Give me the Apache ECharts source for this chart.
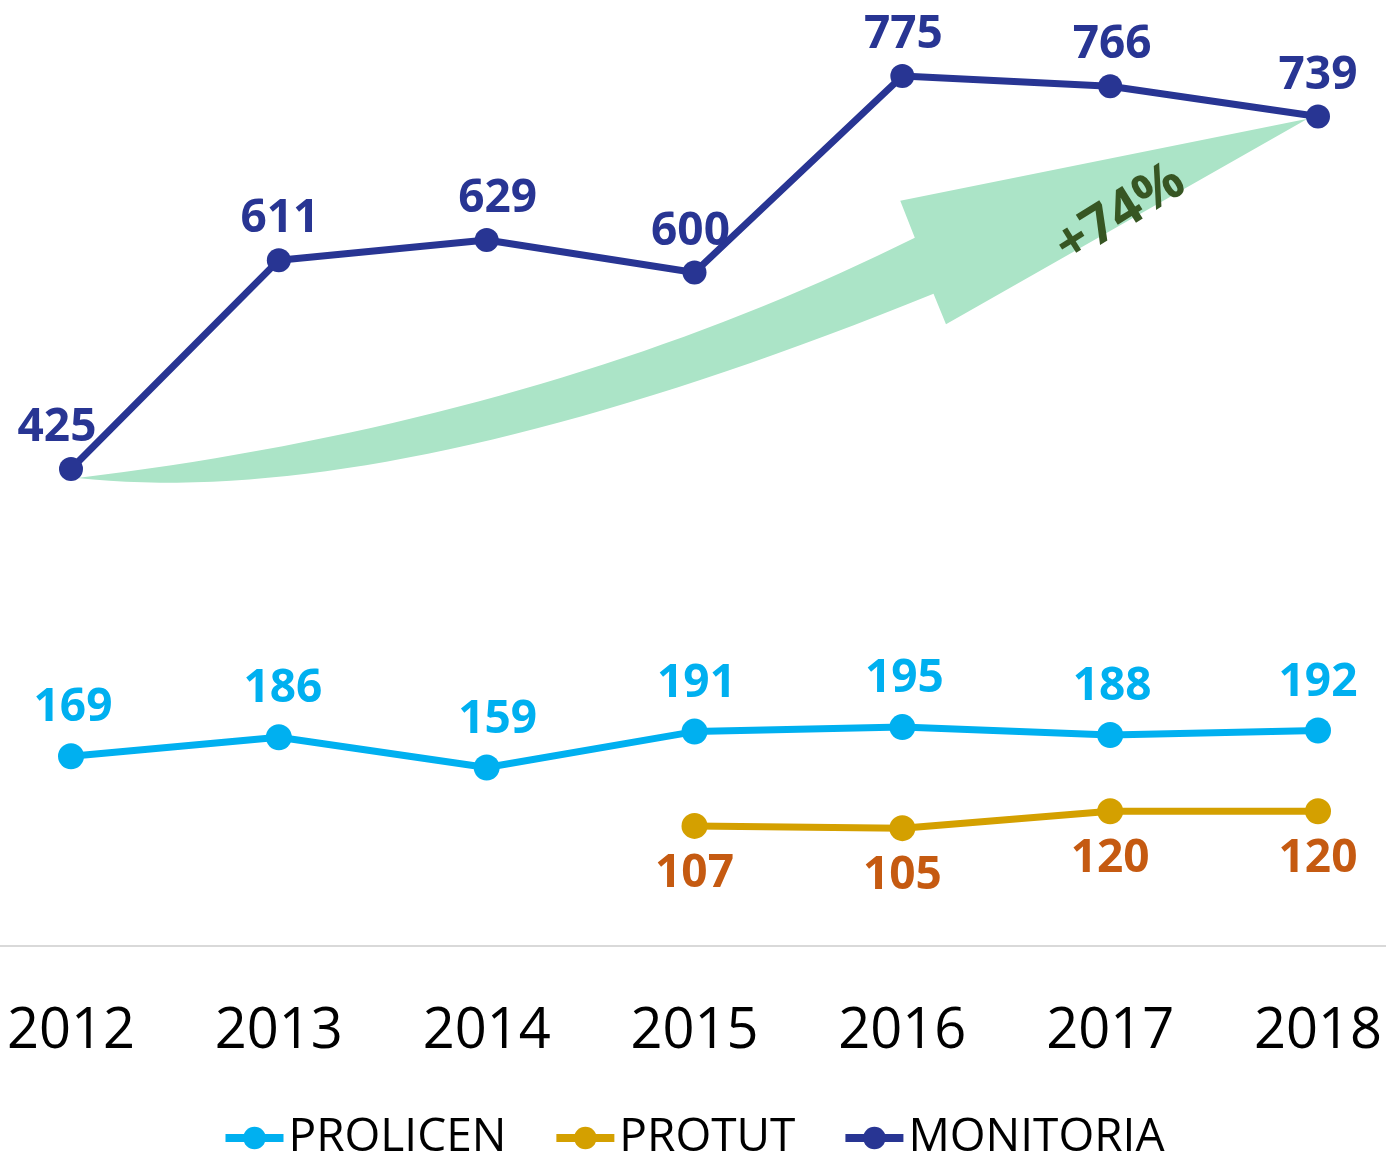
<!DOCTYPE html>
<html>
<head>
<meta charset="utf-8">
<script src="https://cdn.jsdelivr.net/npm/echarts@6/dist/echarts.min.js"></script>
<style>
html,body{margin:0;padding:0;background:#fff;}
#chart{width:1386px;height:1155px;}
</style>
</head>
<body>
<div id="chart"></div>
<script>
// ---- data ----
const years = ['2012', '2013', '2014', '2015', '2016', '2017', '2018'];
const prolicen = [169, 186, 159, 191, 195, 188, 192];
const protut = [null, null, null, 107, 105, 120, 120];
const monitoria = [425, 611, 629, 600, 775, 766, 739];
const growthLabel = '+74%';

// label nudges (pixels), layout only
const monLabelDx = [-14, 1, 11, -4, 1, 2, 0];
const proLabelDx = [2, 4, 11, 2, 2, 2, 0];

// arrow annotation anchored in data space: [category index, value]
const arrowTail = [0.03, 417];
const arrowUpperCtrl = [2.28, 467];
const arrowUpperNotch = [4.06, 631];
const arrowHeadUpper = [3.99, 664];
const arrowTip = [5.95, 737];
const arrowHeadLower = [4.21, 554];
const arrowLowerNotch = [4.15, 581];
const arrowLowerCtrl = [1.55, 386];
const arrowTextAt = [5.05, 652];

const FONT = '"Open Sans", "Noto Sans", sans-serif';
const C_MON = '#283593';
const C_PRO = '#00B0F0';
const C_TUT = '#D4A000';
const C_TUT_LBL = '#C55A11';

const chart = echarts.init(document.getElementById('chart'));

function renderArrow(params, api) {
  const a = api.coord([0, 0]);
  const b = api.coord([1, 0]);
  const step = b[0] - a[0];
  const P = (p) => [a[0] + p[0] * step, api.coord([0, p[1]])[1]];
  const quad = (p0, c, p1, n) => {
    const out = [];
    for (let i = 0; i <= n; i++) {
      const t = i / n, u = 1 - t;
      out.push([u*u*p0[0] + 2*u*t*c[0] + t*t*p1[0], u*u*p0[1] + 2*u*t*c[1] + t*t*p1[1]]);
    }
    return out;
  };
  const T = P(arrowTail);
  const up = quad(T, P(arrowUpperCtrl), P(arrowUpperNotch), 40);
  const low = quad(P(arrowLowerNotch), P(arrowLowerCtrl), T, 40);
  const pts = up.concat([P(arrowHeadUpper), P(arrowTip), P(arrowHeadLower)]).concat(low);
  const tp = P(arrowTextAt);
  return {
    type: 'group',
    children: [
      { type: 'polygon', shape: { points: pts }, style: { fill: '#ABE4C7' } },
      { type: 'text', x: tp[0], y: tp[1], rotation: 32 * Math.PI / 180,
        style: { text: growthLabel, fill: '#375623', font: 'bold 54px ' + FONT, align: 'center', verticalAlign: 'middle' } }
    ]
  };
}

const withDx = (vals, dx) => vals.map((v, i) => ({ value: v, label: { offset: [dx[i], 0] } }));

const labelBase = { show: true, fontFamily: FONT, fontWeight: 'bold', fontSize: 46 };

chart.setOption({
  animation: false,
  grid: [
    { left: 71, right: 68, top: 48, bottom: 209, containLabel: false },
    { left: 0, right: 0, top: 48, bottom: 209, containLabel: false }
  ],
  legend: {
    data: ['PROLICEN', 'PROTUT', 'MONITORIA'],
    top: 1110,
    left: 'center',
    itemWidth: 58,
    itemHeight: 28,
    itemGap: 46,
    lineStyle: { width: 8 },
    textStyle: { fontFamily: FONT, fontSize: 46, color: '#000' }
  },
  xAxis: [
    {
      type: 'category',
      data: years,
      boundaryGap: false,
      axisLine: { show: false },
      axisTick: { show: false },
      axisLabel: { color: '#000', fontFamily: FONT, fontSize: 56, margin: 58 },
      splitLine: { show: false }
    },
    {
      type: 'value', gridIndex: 1, min: 0, max: 1,
      axisLine: { show: true, onZero: false, lineStyle: { color: '#D9D9D9', width: 2 } },
      axisTick: { show: false }, axisLabel: { show: false }, splitLine: { show: false }
    }
  ],
  yAxis: [
    { type: 'value', min: 0, max: 800, show: false, splitLine: { show: false } },
    { type: 'value', gridIndex: 1, min: 0, max: 1, show: false, splitLine: { show: false } }
  ],
  series: [
    {
      type: 'custom', name: 'arrow', renderItem: renderArrow, data: [[0, 0]], z: 1, silent: true
    },
    {
      name: 'PROLICEN', type: 'line', data: withDx(prolicen, proLabelDx), z: 3,
      symbol: 'circle', symbolSize: 26,
      lineStyle: { color: C_PRO, width: 7 }, itemStyle: { color: C_PRO },
      label: Object.assign({}, labelBase, { position: 'top', distance: 12, color: C_PRO })
    },
    {
      name: 'PROTUT', type: 'line', data: protut, z: 3,
      symbol: 'circle', symbolSize: 26,
      lineStyle: { color: C_TUT, width: 7 }, itemStyle: { color: C_TUT },
      label: Object.assign({}, labelBase, { position: 'bottom', distance: 12, color: C_TUT_LBL })
    },
    {
      name: 'MONITORIA', type: 'line', data: withDx(monitoria, monLabelDx), z: 3,
      symbol: 'circle', symbolSize: 24,
      lineStyle: { color: C_MON, width: 7 }, itemStyle: { color: C_MON },
      label: Object.assign({}, labelBase, { position: 'top', distance: 6, color: C_MON })
    }
  ]
});
</script>
</body>
</html>
